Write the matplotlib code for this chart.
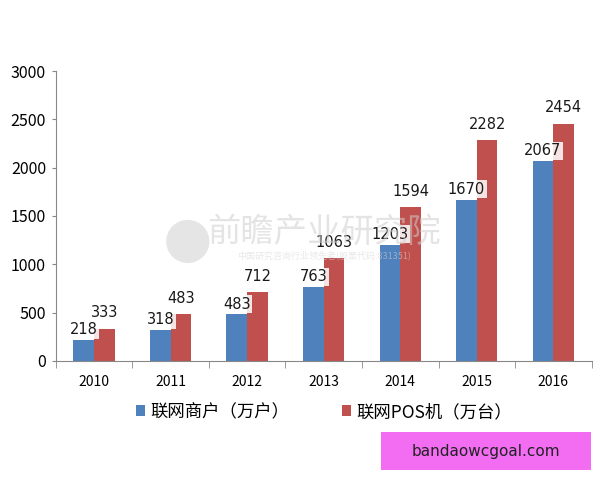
import numpy as np
import matplotlib
matplotlib.use('Agg')
import matplotlib.pyplot as plt
from matplotlib.patches import Rectangle, Ellipse

plt.rcParams['font.family'] = ['Noto Sans CJK SC', 'DejaVu Sans']

# Data
years = ['2010', '2011', '2012', '2013', '2014', '2015', '2016']
merchants = [218, 318, 483, 763, 1203, 1670, 2067]   # 联网商户（万户）
pos = [333, 483, 712, 1063, 1594, 2282, 2454]        # 联网POS机（万台）
series_names = ['联网商户（万户）', '联网POS机（万台）']

BLUE = '#4F81BD'
RED = '#C0504D'

fig = plt.figure(figsize=(6, 4.8), dpi=100)
ax = fig.add_axes([0.093, 0.248, 0.893, 0.604])

x = np.arange(len(years))
w = 0.27
b1 = ax.bar(x - w / 2, merchants, w, color=BLUE, label=series_names[0], zorder=2)
b2 = ax.bar(x + w / 2, pos, w, color=RED, label=series_names[1], zorder=2)

box = dict(boxstyle='square,pad=0.1', fc='white', ec='none', alpha=0.85)
for xi, v in zip(x - w / 2, merchants):
    ax.annotate(str(v), (xi, v), xytext=(0, 2), textcoords='offset points',
                ha='center', va='bottom', fontsize=10.5, color='#1a1a1a',
                family='DejaVu Sans', bbox=box, zorder=4)
for xi, v in zip(x + w / 2, pos):
    ax.annotate(str(v), (xi, v), xytext=(0, 6), textcoords='offset points',
                ha='center', va='bottom', fontsize=10.5, color='#1a1a1a',
                family='DejaVu Sans', bbox=box, zorder=5)

ax.set_xlim(-0.5, len(years) - 0.5)
ax.set_ylim(0, 3000)
ax.set_yticks(range(0, 3001, 500))
ax.set_xticks(x)
ax.set_xticklabels(years)
ax.set_xticks(np.arange(-0.5, len(years), 1), minor=True)
ax.tick_params(axis='x', which='major', length=0, pad=10, labelsize=10)
ax.tick_params(axis='x', which='minor', length=5, color='#888888')
ax.tick_params(axis='y', length=3, color='#888888', labelsize=11.5, pad=4)

for s in ['top', 'right']:
    ax.spines[s].set_visible(False)
for s in ['left', 'bottom']:
    ax.spines[s].set_color('#888888')

# faint watermark (logo circle + name)
fig.patches.append(Ellipse((0.313, 0.497), 0.072, 0.09, transform=fig.transFigure,
                           fc='#d4d4d4', ec='none', alpha=0.6, zorder=0))
fig.text(0.54, 0.515, '前瞻产业研究院', fontsize=24, color='#cfcfcf', alpha=0.55,
         ha='center', va='center', zorder=0)
fig.text(0.54, 0.468, '中国研究咨询行业领先者(股票代码:831351)', fontsize=6.5,
         color='#d6d6d6', alpha=0.55, ha='center', va='center', zorder=0)

fig.legend(handles=[b1, b2], loc='center', bbox_to_anchor=(0.54, 0.142),
           ncol=2, frameon=False, fontsize=12.5, handlelength=0.55,
           handleheight=0.55, columnspacing=3.0, handletextpad=0.3)

# pink badge bottom right
fig.patches.append(Rectangle((0.635, 0.02), 0.35, 0.08, transform=fig.transFigure,
                             fc='#F26DF2', ec='none'))
fig.text(0.81, 0.06, 'bandaowcgoal.com', fontsize=11, color='#222222',
         ha='center', va='center', family='DejaVu Sans')

fig.savefig('out.png', dpi=100)
